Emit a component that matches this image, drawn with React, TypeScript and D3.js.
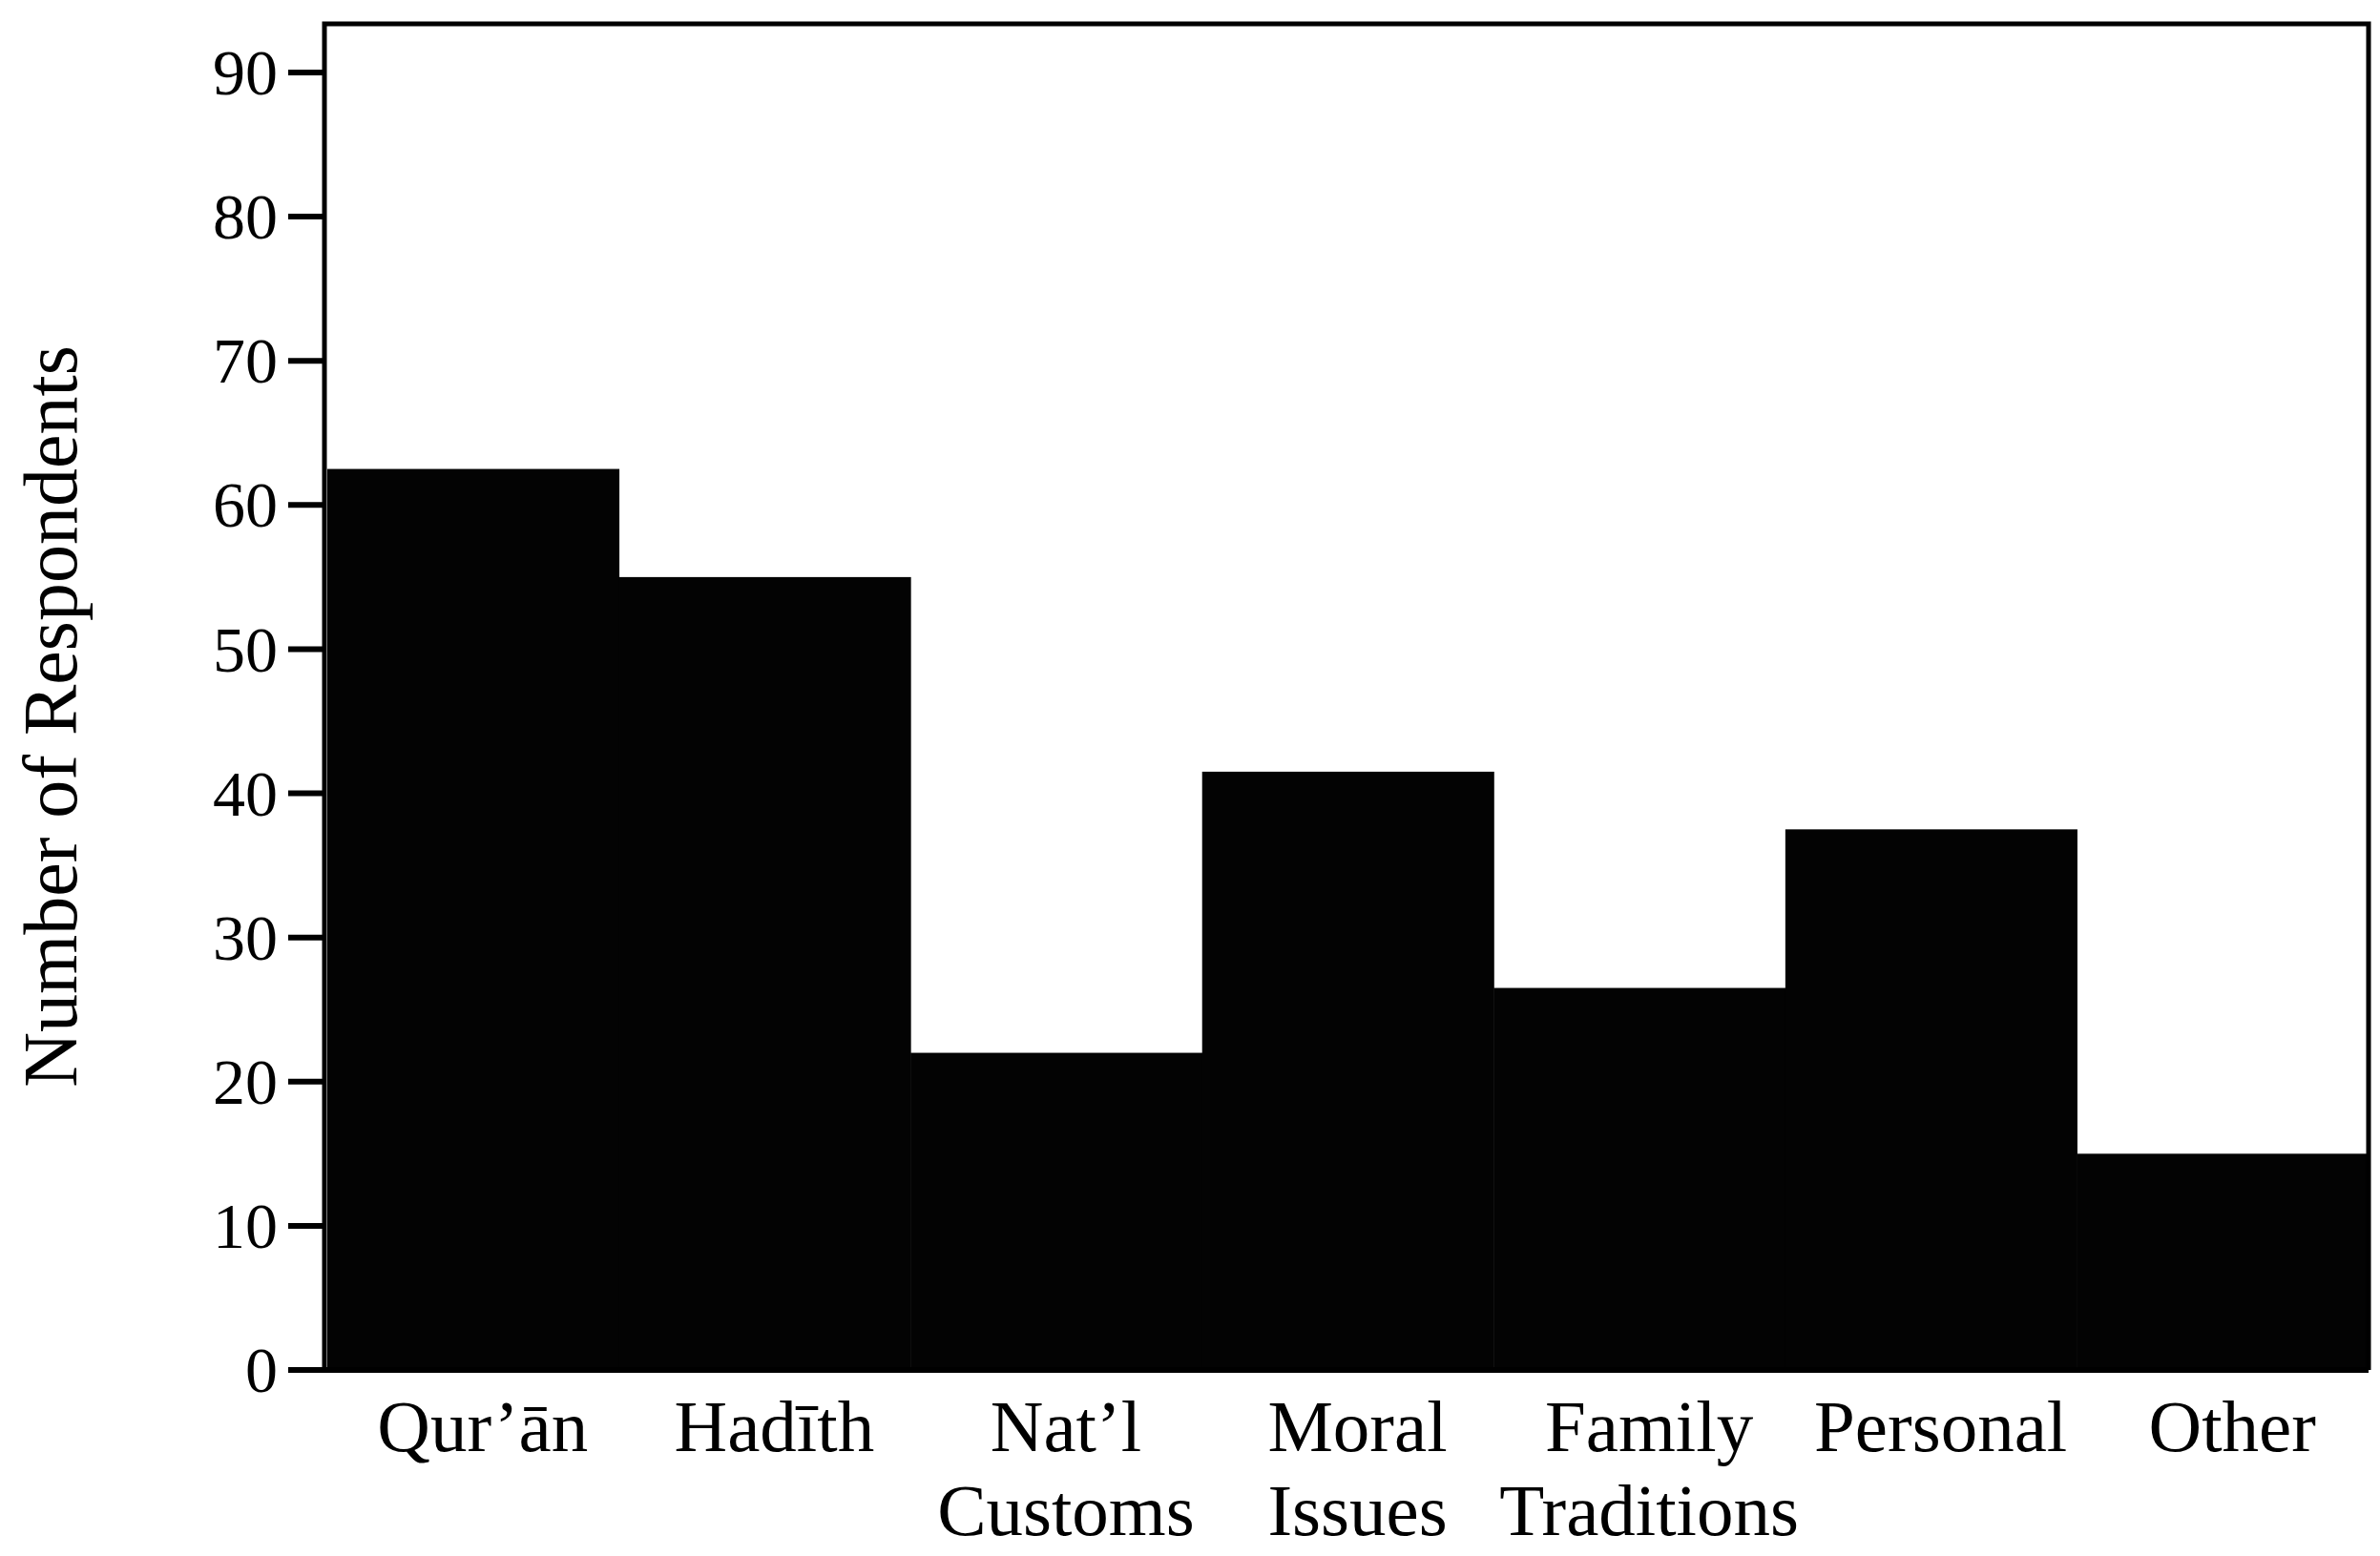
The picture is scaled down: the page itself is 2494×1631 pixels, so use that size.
import React, { useEffect, useRef } from "react";
import * as d3 from "d3";

// Chart data
const categories = ["quran", "hadith", "natl", "moral", "family", "personal", "other"];
const labelLine1 = ["Qur’ān", "Hadīth", "Nat’l", "Moral", "Family", "Personal", "Other"];
const labelLine2 = ["", "", "Customs", "Issues", "Traditions", "", ""];
const respondents = [62.5, 55, 22, 41.5, 26.5, 37.5, 15];
const yTickValues = [0, 10, 20, 30, 40, 50, 60, 70, 80, 90];

const App: React.FC = () => {
  const svgRef = useRef<SVGSVGElement | null>(null);

  useEffect(() => {
    if (!svgRef.current) return;
    const svg = d3.select(svgRef.current);
    svg.selectAll("*").remove();

    const width = 2494;
    const height = 1631;
    const font = "'Liberation Serif', 'Times New Roman', serif";

    svg.attr("width", width).attr("height", height);
    svg.append("rect").attr("width", width).attr("height", height).attr("fill", "#fff");

    // plot area
    const left = 340;
    const right = 2482;
    const frameTop = 25;

    const x = d3.scaleBand<string>().domain(categories).range([left + 3, right]).padding(0);
    const y = d3.scaleLinear().domain([0, 90]).range([1436, 76]);

    // bars
    svg
      .append("g")
      .selectAll("rect")
      .data(respondents)
      .enter()
      .append("rect")
      .attr("x", (_d, i) => x(categories[i]) as number)
      .attr("width", x.bandwidth() + 0.5)
      .attr("y", (d) => y(d))
      .attr("height", (d) => y(0) - y(d))
      .attr("fill", "#030303");

    // frame (left axis, top, right)
    svg
      .append("path")
      .attr("d", `M${left},${y(0)} L${left},${frameTop} L${right},${frameTop} L${right},${y(0)}`)
      .attr("fill", "none")
      .attr("stroke", "#000")
      .attr("stroke-width", 5);

    // x baseline
    svg
      .append("line")
      .attr("x1", 304)
      .attr("x2", right)
      .attr("y1", y(0))
      .attr("y2", y(0))
      .attr("stroke", "#000")
      .attr("stroke-width", 6);

    // y ticks
    const yAxis = svg.append("g");
    yAxis
      .selectAll("line")
      .data(yTickValues)
      .enter()
      .append("line")
      .attr("x1", 302)
      .attr("x2", left)
      .attr("y1", (d) => y(d))
      .attr("y2", (d) => y(d))
      .attr("stroke", "#000")
      .attr("stroke-width", 6);

    yAxis
      .selectAll("text")
      .data(yTickValues)
      .enter()
      .append("text")
      .attr("x", 291)
      .attr("y", (d) => y(d))
      .attr("dy", "0.34em")
      .attr("text-anchor", "end")
      .attr("font-family", font)
      .attr("font-size", 68)
      .attr("fill", "#000")
      .text((d) => d.toString());

    // y label
    svg
      .append("text")
      .attr("transform", `translate(80, 751) rotate(-90)`)
      .attr("text-anchor", "middle")
      .attr("font-family", font)
      .attr("font-size", 80)
      .attr("fill", "#000")
      .text("Number of Respondents");

    // x labels
    const xLabels = svg.append("g");
    categories.forEach((c, i) => {
      const cx = (x(c) as number) + x.bandwidth() / 2 + 10;
      xLabels
        .append("text")
        .attr("x", cx)
        .attr("y", 1521)
        .attr("text-anchor", "middle")
        .attr("font-family", font)
        .attr("font-size", 77)
        .attr("fill", "#000")
        .text(labelLine1[i]);
      if (labelLine2[i]) {
        xLabels
          .append("text")
          .attr("x", cx)
          .attr("y", 1609)
          .attr("text-anchor", "middle")
          .attr("font-family", font)
          .attr("font-size", 77)
          .attr("fill", "#000")
          .text(labelLine2[i]);
      }
    });
  }, []);

  return (
    <div style={{ position: "absolute", left: 0, top: 0 }}>
      <svg ref={svgRef} style={{ display: "block" }} />
    </div>
  );
};

export default App;
